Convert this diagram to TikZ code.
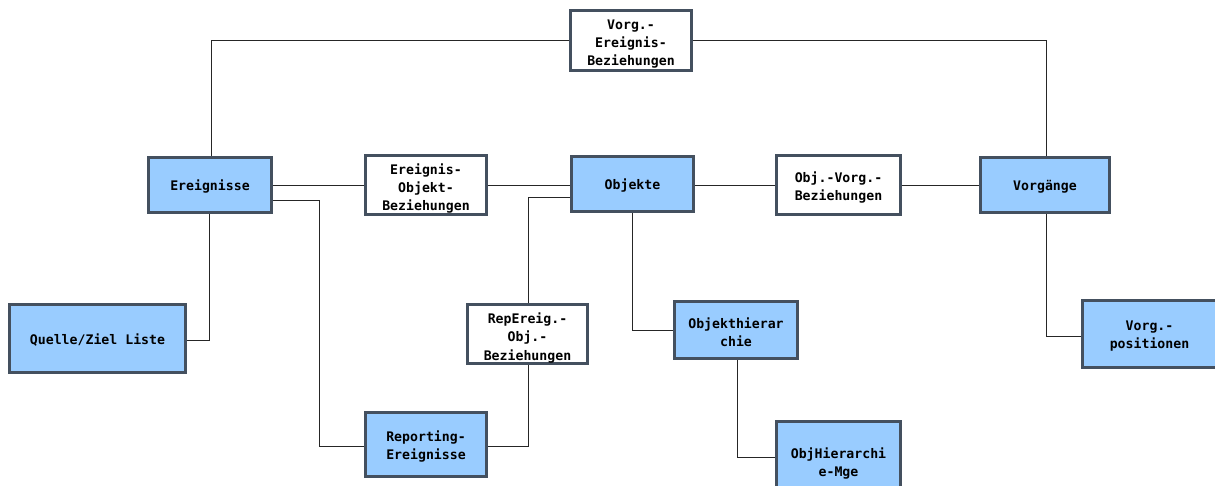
\documentclass[tikz,border=0pt]{standalone}
\usepackage{fontspec}
\setmonofont{DejaVu Sans Mono}
\begin{document}
\begin{tikzpicture}[x=1pt,y=-1pt,
  box/.style={draw=boxline, line width=1.8pt, rectangle, inner sep=0pt},
  entity/.style={box, fill=entityblue},
  relation/.style={box, fill=white},
  caption/.style={align=center, inner sep=0pt,
    font=\ttfamily\bfseries\fontsize{13.2}{18}\selectfont},
  link/.style={draw=black!85, line width=0.9pt}]
\definecolor{entityblue}{HTML}{99CCFF}
\definecolor{boxline}{HTML}{44505F}
\clip (0,0) rectangle (1215,486);
\fill[white] (0,0) rectangle (1215,486);

% entity and relation boxes: \node at centre, sized in px
\node[relation, minimum width=120, minimum height=59] (veb) at (631,40.5) {};
\node[entity,   minimum width=122, minimum height=54] (ereig) at (210,185) {};
\node[relation, minimum width=120, minimum height=58] (eob) at (426,185) {};
\node[entity,   minimum width=121, minimum height=54] (obj) at (632.5,184) {};
\node[relation, minimum width=123, minimum height=58] (ovb) at (838.5,185) {};
\node[entity,   minimum width=128, minimum height=54] (vorg) at (1045,185) {};
\node[entity,   minimum width=175, minimum height=67] (qzl) at (97.5,338.5) {};
\node[relation, minimum width=119, minimum height=58] (reob) at (527.5,334) {};
\node[entity,   minimum width=122, minimum height=56] (ohier) at (736,330) {};
\node[entity,   minimum width=133, minimum height=66] (vpos) at (1149.5,334) {};
\node[entity,   minimum width=120, minimum height=63] (repe) at (426,444.5) {};
\node[entity,   minimum width=123, minimum height=78] (ohmge) at (838.5,461) {};

% bend points of the connectors
\coordinate (c1) at (211,40);
\coordinate (c2) at (1046,40);
\coordinate (c3) at (319,200);
\coordinate (c4) at (319,446);
\coordinate (c5) at (209,340);
\coordinate (c6) at (528,197);
\coordinate (c7) at (528,446);
\coordinate (c8) at (632,330);
\coordinate (c9) at (737,457);
\coordinate (c10) at (1046,336);

% connectors
\draw[link] (ereig.north -| c1) -- (c1) -- (veb.west |- c1);
\draw[link] (veb.east |- c2) -- (c2) -- (vorg.north -| c2);
\draw[link] (ereig.east |- eob.west) -- (eob.west);
\draw[link] (eob.east) -- (obj.west |- eob.east);
\draw[link] (obj.east |- ovb.west) -- (ovb.west);
\draw[link] (ovb.east) -- (vorg.west |- ovb.east);
\draw[link] (ereig.east |- c3) -- (c3) -- (c4) -- (repe.west |- c4);
\draw[link] (ereig.south -| c5) -- (c5) -- (qzl.east |- c5);
\draw[link] (obj.west |- c6) -- (c6) -- (reob.north -| c6);
\draw[link] (reob.south -| c7) -- (c7) -- (repe.east |- c7);
\draw[link] (obj.south -| c8) -- (c8) -- (ohier.west |- c8);
\draw[link] (ohier.south -| c9) -- (c9) -- (ohmge.west |- c9);
\draw[link] (vorg.south -| c10) -- (c10) -- (vpos.west |- c10);

% redraw box outlines on top of connector ends
\foreach \n in {veb,ereig,eob,obj,ovb,vorg,qzl,reob,ohier,vpos,repe,ohmge}
  \draw[boxline, line width=1.8pt] (\n.north west) rectangle (\n.south east);

% box captions, set slightly below the box centre
\node[caption] (tveb)   at ([yshift=-4pt]veb.center)   {Vorg.-\\Ereignis-\\Beziehungen};
\node[caption] (tereig) at ([yshift=-2pt]ereig.center) {Ereignisse};
\node[caption] (teob)   at ([yshift=-4pt]eob.center)   {Ereignis-\\Objekt-\\Beziehungen};
\node[caption] (tobj)   at ([yshift=-2pt]obj.center)   {Objekte};
\node[caption] (tovb)   at ([yshift=-3pt]ovb.center)   {Obj.-Vorg.-\\Beziehungen};
\node[caption] (tvorg)  at ([yshift=-2pt]vorg.center)  {Vorgänge};
\node[caption] (tqzl)   at ([yshift=-2pt]qzl.center)   {Quelle/Ziel Liste};
\node[caption] (treob)  at ([yshift=-4pt]reob.center)  {RepEreig.-\\Obj.-\\Beziehungen};
\node[caption] (tohier) at ([yshift=-2pt]ohier.center) {Objekthierar\\chie};
\node[caption] (tvpos)  at ([yshift=-2pt]vpos.center)  {Vorg.-\\positionen};
\node[caption] (trepe)  at ([yshift=-2pt]repe.center)  {Reporting-\\Ereignisse};
\node[caption] (tohmge) at ([yshift=-2pt]ohmge.center) {ObjHierarchi\\e-Mge};
\end{tikzpicture}
\end{document}
